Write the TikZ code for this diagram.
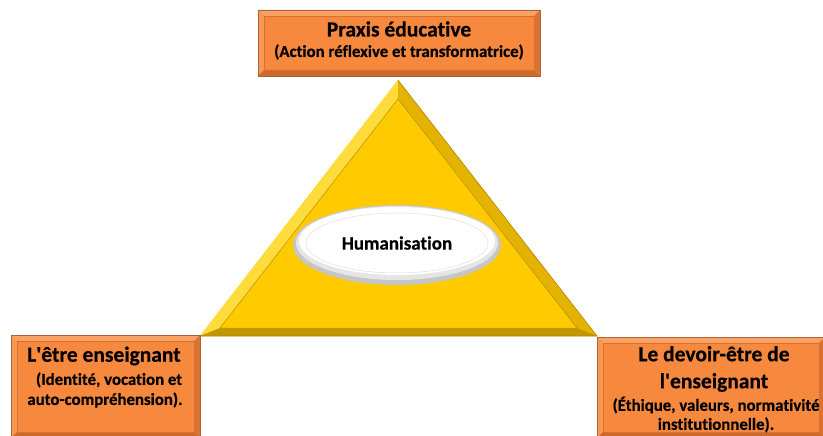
\documentclass[tikz,border=0pt]{standalone}
\usepackage{fontspec}
\setmainfont{Carlito}[Ligatures=NoCommon, BoldFeatures={FakeBold=0.5}]
\usetikzlibrary{shapes.geometric}
\definecolor{OrFill}{RGB}{247,137,62}
\definecolor{OrLight}{RGB}{250,162,100}
\definecolor{OrDark}{RGB}{205,105,45}
\definecolor{OrBorder}{RGB}{170,100,60}
\definecolor{OrLine}{RGB}{215,112,48}
\definecolor{Gold}{RGB}{255,203,0}
\definecolor{GoldLight}{RGB}{255,220,60}
\definecolor{GoldDark}{RGB}{228,178,0}
\definecolor{GoldDeep}{RGB}{175,135,0}
\tikzset{
  orangebox/.style={draw=OrBorder, fill=OrFill, line width=0.6pt, inner sep=0pt,
    path picture={
      \fill[OrLight] (path picture bounding box.north west) -- (path picture bounding box.north east)
        -- ([xshift=-6pt,yshift=-6pt]path picture bounding box.north east) -- ([xshift=6pt,yshift=-6pt]path picture bounding box.north west) -- cycle;
      \fill[OrLight!60!OrFill] (path picture bounding box.north west) -- (path picture bounding box.south west)
        -- ([xshift=6pt,yshift=6pt]path picture bounding box.south west) -- ([xshift=6pt,yshift=-6pt]path picture bounding box.north west) -- cycle;
      \fill[OrDark] (path picture bounding box.south west) -- (path picture bounding box.south east)
        -- ([xshift=-6pt,yshift=6pt]path picture bounding box.south east) -- ([xshift=6pt,yshift=6pt]path picture bounding box.south west) -- cycle;
      \fill[OrDark!70!OrFill] (path picture bounding box.north east) -- (path picture bounding box.south east)
        -- ([xshift=-6pt,yshift=6pt]path picture bounding box.south east) -- ([xshift=-6pt,yshift=-6pt]path picture bounding box.north east) -- cycle;
      \draw[OrLine, line width=0.5pt] ([xshift=6pt,yshift=-6pt]path picture bounding box.north west) rectangle ([xshift=-6pt,yshift=6pt]path picture bounding box.south east);
    }},
  titlefont/.style={font=\bfseries\fontsize{21.5}{27}\selectfont, text=black},
  subfont/.style={font=\bfseries\fontsize{16.8}{20}\selectfont, text=black},
  humfont/.style={font=\bfseries\fontsize{19}{22}\selectfont, text=black},
}
\newcommand{\apos}{\textquotesingle}
\begin{document}
\begin{tikzpicture}[x=1pt,y=-1pt]
\useasboundingbox (0,0) rectangle (823,436);

% Triangle with bevel
\coordinate (A) at (398,80);
\coordinate (B) at (200,336);
\coordinate (C) at (597,336);
\coordinate (Ai) at (398,99);
\coordinate (Bi) at (220,328);
\coordinate (Ci) at (577,328);
\fill[Gold] (A) -- (B) -- (C) -- cycle;
\fill[GoldLight] (A) -- (B) -- (Bi) -- (Ai) -- cycle;
\fill[GoldDark] (A) -- (C) -- (Ci) -- (Ai) -- cycle;
\fill[GoldDark!85!black] (B) -- (C) -- (Ci) -- (Bi) -- cycle;
\fill[Gold] (Ai) -- (Bi) -- (Ci) -- cycle;
\draw[GoldDark!80!black, line width=0.5pt] (Ai) -- (Bi) -- (Ci) -- cycle;
\draw[GoldDeep, line width=0.6pt] (A) -- (C) -- (B);

% Ellipse
\fill[gray!45] (397,245) ellipse [x radius=104, y radius=40];
\fill[gray!20] (397,243) ellipse [x radius=101, y radius=37];
\fill[white] (397,241) ellipse [x radius=98, y radius=34];
\draw[gray!25, line width=0.5pt] (397,243) ellipse [x radius=91, y radius=30];
\node[humfont] (hum) at (397,243) {Humanisation};

% Boxes
\node[orangebox, minimum width=282pt, minimum height=66pt] (top) at (399,43) {};
\node[titlefont] (toptitle) at (399,29) {Praxis éducative};
\node[subfont] (topsub) at (399,52) {(Action réflexive et transformatrice)};

\node[orangebox, minimum width=189pt, minimum height=103pt] (left) at (105.5,386.5) {};
\node[titlefont] (lefttitle) at (104,356) {L\apos être enseignant};
\node[subfont, align=center, font=\bfseries\fontsize{16.8}{20}\selectfont] (leftsub) at (105,390) {\hspace*{8pt}(Identité, vocation et\\auto-compréhension).};

\node[orangebox, minimum width=228pt, minimum height=101pt] (right) at (711,387.5) {};
\node[titlefont, align=center] (righttitle) at (714,369) {Le devoir-être de\\l\apos enseignant};
\node[subfont, align=center, font=\bfseries\fontsize{16.8}{19}\selectfont] (rightsub) at (716,414.5) {(Éthique, valeurs, normativité\\institutionnelle).};
\end{tikzpicture}
\end{document}
